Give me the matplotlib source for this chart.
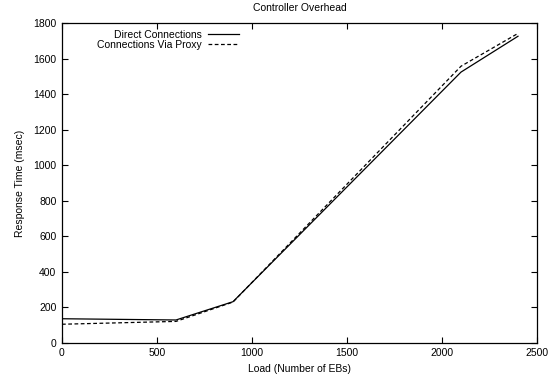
import matplotlib
matplotlib.use('Agg')
import matplotlib.pyplot as plt

plt.rcParams['font.family'] = ['Liberation Sans', 'DejaVu Sans']

carga = [0, 600, 900, 2100, 2400]
directo = [135, 128, 231, 1525, 1727]
proxy = [104, 120, 229, 1558, 1743]

fig = plt.figure(figsize=(5.56, 3.82), dpi=100)
ax = fig.add_axes([0.1115, 0.1029, 0.8543, 0.8361])

ax.plot(carga, directo, color='black', linewidth=0.9, label='Direct Connections')
ax.plot(carga, proxy, color='black', linewidth=0.9, linestyle=(0, (3, 2)), label='Connections Via Proxy')

ax.set_xlim(0, 2500)
ax.set_ylim(0, 1800)
ax.set_xticks(range(0, 2501, 500))
ax.set_yticks(range(0, 1801, 200))
ax.tick_params(direction='in', top=True, right=True, length=4, width=0.8, labelsize=7.5, pad=4)
for s in ax.spines.values():
    s.set_linewidth(0.9)

ax.set_title('Controller Overhead', fontsize=7.5, pad=9)
ax.set_xlabel('Load (Number of EBs)', fontsize=7.5, labelpad=4)
ax.set_ylabel('Response Time (msec)', fontsize=7.5, labelpad=6)

# leyenda estilo gnuplot: texto a la derecha alineado, muestra de linea despues
leg = ax.legend(loc='upper right', bbox_to_anchor=(0.385, 1.0), frameon=False, markerfirst=False,
                fontsize=7.5, handlelength=2.9, handletextpad=0.65, labelspacing=0.0, borderaxespad=0.2)
for t in leg.get_texts():
    t.set_ha('right')
leg._legend_box.align = 'right'

fig.savefig('out.png', dpi=100)
